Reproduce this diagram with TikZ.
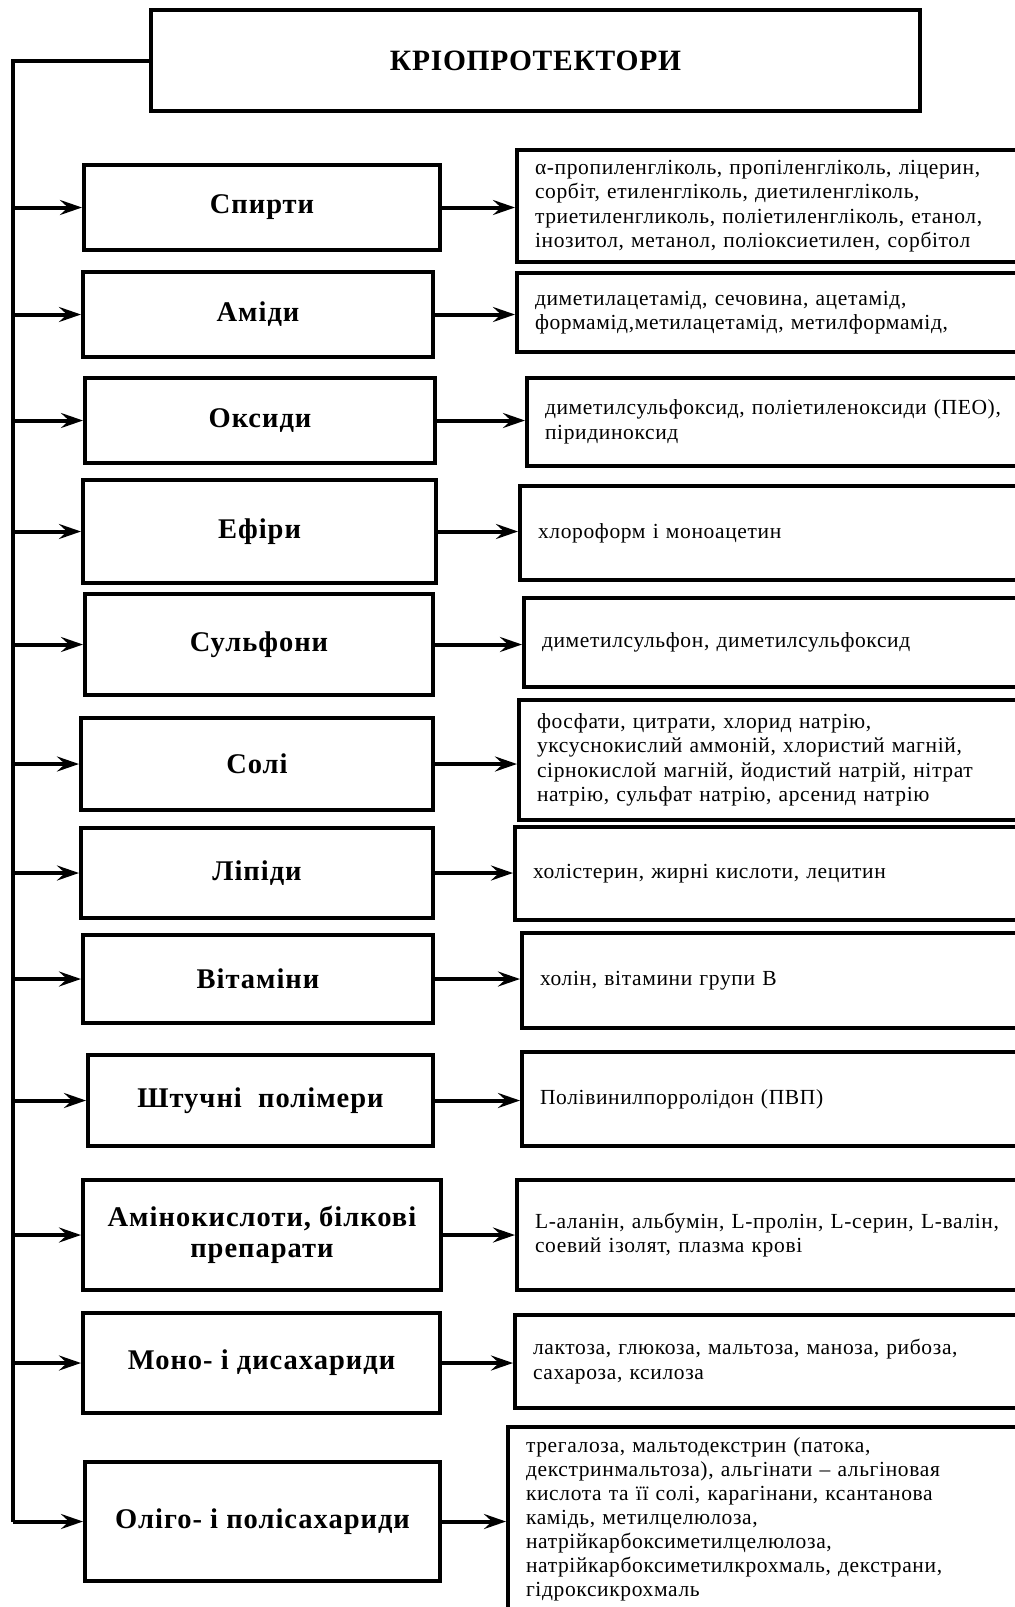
\documentclass[tikz,border=0pt]{standalone}
\usepackage{fontspec}
\setmainfont{Liberation Serif}
\newfontfamily\rtxt[LetterSpace=3]{Liberation Serif}
\newfontfamily\ltxt[LetterSpace=3.5]{Liberation Serif}
\newfontfamily\ttxt[LetterSpace=2.5]{Liberation Serif}
\usetikzlibrary{arrows.meta}
\begin{document}
\begin{tikzpicture}[x=1pt,y=-1pt,
  lbox/.style={draw,line width=4pt,font=\ltxt\fontsize{28.5}{31}\selectfont\bfseries,align=center,inner sep=0pt},
  rbox/.style={draw,line width=4pt,anchor=west,font=\rtxt\fontsize{21.5}{24.5}\selectfont,text width=520pt,align=left,inner xsep=18pt,inner ysep=0pt},
  conn/.style={line width=4pt,-{Stealth[length=22pt,width=15pt,inset=8pt]}},
  trunk/.style={line width=4pt}]
\useasboundingbox (0,0) rectangle (1015,1607);
\clip (0,0) rectangle (1015,1607);

\node[draw,line width=4pt,minimum width=769pt,minimum height=101pt,inner sep=0pt,font=\ttxt\fontsize{29.5}{32}\selectfont\bfseries] (title) at (535.5,60.5) {КРІОПРОТЕКТОРИ};

\node[lbox,minimum width=356pt,minimum height=85pt] (sp) at (262,207.5) {Спирти};
\node[lbox,minimum width=350pt,minimum height=85pt] (am) at (258,314.5) {Аміди};
\node[lbox,minimum width=350pt,minimum height=85pt] (ok) at (260,420.5) {Оксиди};
\node[lbox,minimum width=353pt,minimum height=103pt] (ef) at (259.5,531.5) {Ефіри};
\node[lbox,minimum width=348pt,minimum height=101pt] (su) at (259,644.5) {Сульфони};
\node[lbox,minimum width=352pt,minimum height=92pt] (so) at (257,764) {Солі};
\node[lbox,minimum width=352pt,minimum height=90pt] (li) at (257,873) {Ліпіди};
\node[lbox,minimum width=350pt,minimum height=88pt] (vi) at (258,979) {Вітаміни};
\node[lbox,minimum width=345pt,minimum height=91pt] (sh) at (260.5,1100.5) {Штучні\ \ полімери};
\node[lbox,minimum width=358pt,minimum height=110pt] (ak) at (262,1235) {Амінокислоти, білкові\\препарати};
\node[lbox,minimum width=357pt,minimum height=100pt] (mo) at (261.5,1363) {Моно- і дисахариди};
\node[lbox,minimum width=355pt,minimum height=119pt] (ol) at (262.5,1521.5) {Оліго- і полісахариди};

\node[rbox,minimum height=112pt] (r1) at (515,206) {α-пропиленгліколь, пропіленгліколь, ліцерин,\\сорбіт, етиленгліколь, диетиленгліколь,\\триетиленгликоль, поліетиленгліколь, етанол,\\інозитол, метанол, поліоксиетилен, сорбітол};
\node[rbox,minimum height=79pt] (r2) at (515,312.5) {диметилацетамід, сечовина, ацетамід,\\формамід,метилацетамід, метилформамід,};
\node[rbox,minimum height=88pt] (r3) at (525,422) {диметилсульфоксид, поліетиленоксиди (ПЕО),\\піридиноксид};
\node[rbox,minimum height=94pt] (r4) at (518,533) {хлороформ і моноацетин};
\node[rbox,minimum height=89pt] (r5) at (522,642.5) {диметилсульфон, диметилсульфоксид};
\node[rbox,minimum height=120pt] (r6) at (517,760) {фосфати, цитрати, хлорид натрію,\\уксуснокислий аммоній, хлористий магній,\\сірнокислой магній, йодистий натрій, нітрат\\натрію, сульфат натрію, арсенид натрію};
\node[rbox,minimum height=93pt] (r7) at (513,873.5) {холістерин, жирні кислоти, лецитин};
\node[rbox,minimum height=95pt] (r8) at (520,980.5) {холін, вітамини групи В};
\node[rbox,minimum height=94pt] (r9) at (520,1099) {Полівинилпорролідон (ПВП)};
\node[rbox,minimum height=110pt] (r10) at (515,1235) {L-аланін, альбумін, L-пролін, L-серин, L-валін,\\соевий ізолят, плазма крові};
\node[rbox,minimum height=93pt] (r11) at (513,1361.5) {лактоза, глюкоза, мальтоза, маноза, рибоза,\\сахароза, ксилоза};
\node[rbox,minimum height=185pt,font=\rtxt\fontsize{21.5}{24}\selectfont] (r12) at (506,1519.5) {трегалоза, мальтодекстрин (патока,\\декстринмальтоза), альгінати – альгіновая\\кислота та її солі, карагінани, ксантанова\\камідь, метилцелюлоза,\\натрійкарбоксиметилцелюлоза,\\натрійкарбоксиметилкрохмаль, декстрани,\\гідроксикрохмаль};

\coordinate (bot) at (13,1521.5);
\draw[trunk] (title.west) -| (bot);
\foreach \b in {sp,am,ok,ef,su,so,li,vi,sh,ak,mo,ol}{
  \draw[conn] (bot |- \b.west) -- (\b.west);
}
\foreach \b/\r in {sp/r1,am/r2,ok/r3,ef/r4,su/r5,so/r6,li/r7,vi/r8,sh/r9,ak/r10,mo/r11,ol/r12}{
  \draw[conn] (\b.east) -- (\b.east -| \r.west);
}
\end{tikzpicture}
\end{document}
